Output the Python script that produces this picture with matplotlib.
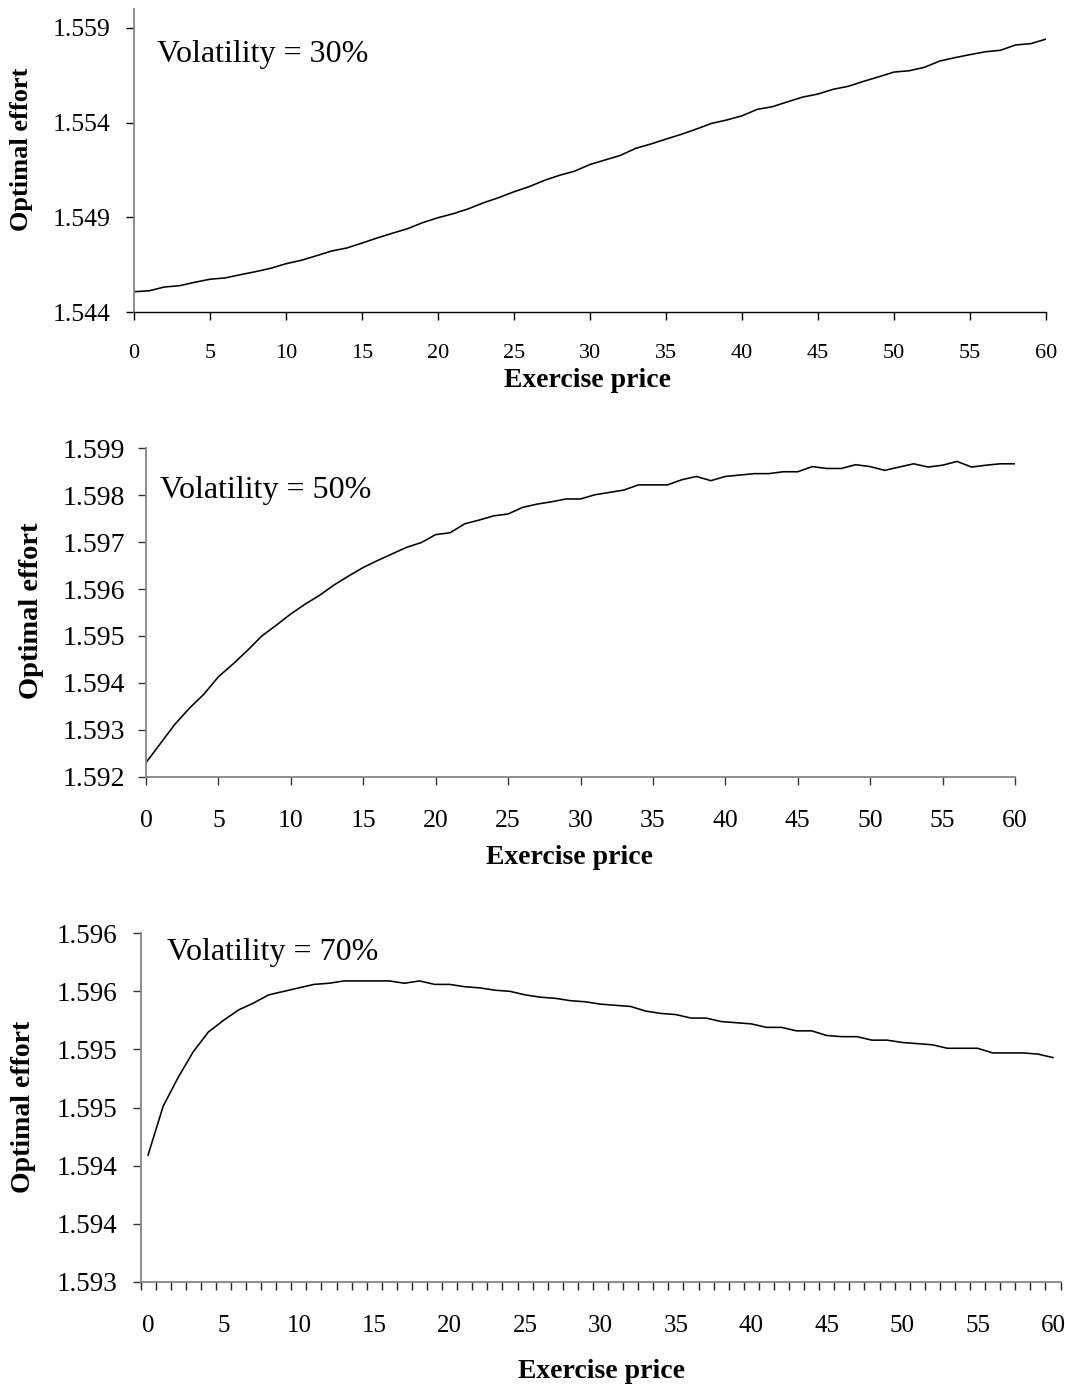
import matplotlib
matplotlib.use("Agg")
import matplotlib.pyplot as plt
from matplotlib.ticker import FixedLocator, NullFormatter

plt.rcParams['font.family'] = ['Liberation Serif', 'DejaVu Serif']

# ---------------- data ----------------
exercise_price = list(range(61))

effort_vol30 = [
    1.54507, 1.54512, 1.54532, 1.54539, 1.54557, 1.54573, 1.54580, 1.54597, 1.54613, 1.54631,
    1.54655, 1.54673, 1.54697, 1.54722, 1.54738, 1.54764, 1.54791, 1.54816, 1.54840, 1.54872,
    1.54898, 1.54919, 1.54945, 1.54977, 1.55004, 1.55035, 1.55062, 1.55095, 1.55122, 1.55144,
    1.55179, 1.55203, 1.55227, 1.55264, 1.55287, 1.55313, 1.55338, 1.55366, 1.55396, 1.55414,
    1.55436, 1.55470, 1.55484, 1.55510, 1.55535, 1.55551, 1.55576, 1.55592, 1.55618, 1.55642,
    1.55667, 1.55674, 1.55692, 1.55725, 1.55743, 1.55759, 1.55774, 1.55782, 1.55810, 1.55817,
    1.55841,
]

effort_vol50 = [
    1.59230, 1.59271, 1.59312, 1.59346, 1.59376, 1.59413, 1.59440, 1.59469, 1.59500, 1.59523,
    1.59547, 1.59568, 1.59587, 1.59609, 1.59628, 1.59646, 1.59661, 1.59675, 1.59689, 1.59699,
    1.59716, 1.59720, 1.59739, 1.59747, 1.59756, 1.59760, 1.59774, 1.59781, 1.59786, 1.59792,
    1.59792, 1.59801, 1.59806, 1.59811, 1.59822, 1.59822, 1.59822, 1.59833, 1.59840, 1.59831,
    1.59840, 1.59843, 1.59846, 1.59846, 1.59850, 1.59850, 1.59861, 1.59857, 1.59857, 1.59865,
    1.59861, 1.59853, 1.59860, 1.59867, 1.59860, 1.59864, 1.59872, 1.59860, 1.59864, 1.59867,
    1.59867,
]

categories_70 = [str(v) for v in range(61)]
effort_vol70 = [
    1.59409, 1.59451, 1.59476, 1.59498, 1.59515, 1.59525, 1.59534, 1.59540, 1.59547, 1.59550,
    1.59553, 1.59556, 1.59557, 1.59559, 1.59559, 1.59559, 1.59559, 1.59557, 1.59559, 1.59556,
    1.59556, 1.59554, 1.59553, 1.59551, 1.59550, 1.59547, 1.59545, 1.59544, 1.59542, 1.59541,
    1.59539, 1.59538, 1.59537, 1.59533, 1.59531, 1.59530, 1.59527, 1.59527, 1.59524, 1.59523,
    1.59522, 1.59519, 1.59519, 1.59516, 1.59516, 1.59512, 1.59511, 1.59511, 1.59508, 1.59508,
    1.59506, 1.59505, 1.59504, 1.59501, 1.59501, 1.59501, 1.59497, 1.59497, 1.59497, 1.59496,
    1.59493,
]

x_ticks = list(range(0, 61, 5))
yticks_30 = [1.544, 1.549, 1.554, 1.559]
yticklabels_30 = ['1.544', '1.549', '1.554', '1.559']
yticks_50 = [1.592, 1.593, 1.594, 1.595, 1.596, 1.597, 1.598, 1.599]
yticklabels_50 = ['1.592', '1.593', '1.594', '1.595', '1.596', '1.597', '1.598', '1.599']
yticks_70 = [1.593, 1.5935, 1.594, 1.5945, 1.595, 1.5955, 1.596]
yticklabels_70 = ['1.593', '1.594', '1.594', '1.595', '1.595', '1.596', '1.596']

titles = ['Volatility = 30%', 'Volatility = 50%', 'Volatility = 70%']
ylabel_text = 'Optimal effort'
xlabel_text = 'Exercise price'

# ---------------- layout ----------------
W, H = 1065, 1386
fig = plt.figure(figsize=(W / 100, H / 100), dpi=100)
fig.patch.set_facecolor('white')


def rect(left, top, right, bottom):
    return [left / W, 1 - bottom / H, (right - left) / W, (bottom - top) / H]


def fx(x):
    return x / W


def fy(y):
    return 1 - y / H


GRAY = '#858585'
LW = 1.15

# ---- Panel 1 ----
ax1 = fig.add_axes(rect(134, 9, 1046, 312))
ax1.plot(exercise_price, effort_vol30, color='black', lw=LW)
ax1.set_xlim(0, 60)
ax1.set_ylim(1.544, 1.560)
ax1.set_xticks(x_ticks)
ax1.set_xticklabels([str(v) for v in x_ticks])
ax1.set_yticks(yticks_30)
ax1.set_yticklabels(yticklabels_30)
for s in ['top', 'right']:
    ax1.spines[s].set_visible(False)
ax1.spines['left'].set_color(GRAY)
ax1.spines['left'].set_linewidth(1.3)
ax1.spines['bottom'].set_color('black')
ax1.spines['bottom'].set_linewidth(1.0)
ax1.tick_params(axis='y', direction='out', length=6, width=1.0, color='black',
                labelsize=18.5, pad=11)
ax1.tick_params(axis='x', direction='out', length=6, width=1.0, color='black',
                labelsize=16, pad=17)

# ---- Panel 2 ----
ax2 = fig.add_axes(rect(146, 448.3, 1015, 776.7))
ax2.plot(exercise_price, effort_vol50, color='black', lw=LW)
ax2.set_xlim(0, 60)
ax2.set_ylim(1.592, 1.599)
ax2.set_xticks(x_ticks)
ax2.set_xticklabels([str(v) for v in x_ticks])
ax2.set_yticks(yticks_50)
ax2.set_yticklabels(yticklabels_50)
for s in ['top', 'right']:
    ax2.spines[s].set_visible(False)
for s in ['left', 'bottom']:
    ax2.spines[s].set_color(GRAY)
    ax2.spines[s].set_linewidth(1.3)
ax2.tick_params(axis='y', direction='out', length=6, width=1.0, color='#333333',
                labelsize=20, pad=9)
ax2.tick_params(axis='x', direction='out', length=6, width=1.0, color='#333333',
                labelsize=18.5, pad=18)

# ---- Panel 3 (category axis) ----
ax3 = fig.add_axes(rect(140.5, 933.3, 1060.5, 1281.7))
cat_pos = list(range(len(categories_70)))
ax3.plot(cat_pos, effort_vol70, color='black', lw=LW)
ax3.set_xlim(-0.5, len(categories_70) - 0.5)
ax3.set_ylim(1.593, 1.596)
label_pos = [i for i, c in enumerate(categories_70) if int(c) % 5 == 0]
ax3.xaxis.set_major_locator(FixedLocator(label_pos))
ax3.set_xticklabels([categories_70[i] for i in label_pos])
ax3.xaxis.set_minor_locator(FixedLocator([i - 0.5 for i in range(len(categories_70) + 1)]))
ax3.xaxis.set_minor_formatter(NullFormatter())
ax3.set_yticks(yticks_70)
ax3.set_yticklabels(yticklabels_70)
for s in ['top', 'right']:
    ax3.spines[s].set_visible(False)
for s in ['left', 'bottom']:
    ax3.spines[s].set_color(GRAY)
    ax3.spines[s].set_linewidth(1.3)
ax3.tick_params(axis='x', which='major', length=0, labelsize=18, pad=24)
ax3.tick_params(axis='x', which='minor', direction='out', length=6, width=1.0, color='#222222')
ax3.tick_params(axis='y', direction='out', length=6, width=1.0, color='#333333',
                labelsize=19.5, pad=10.5)

# ---- annotations ----
fig.text(fx(157), fy(62), titles[0], fontsize=23, ha='left', va='baseline')
fig.text(fx(160), fy(498), titles[1], fontsize=23, ha='left', va='baseline')
fig.text(fx(167), fy(960), titles[2], fontsize=23, ha='left', va='baseline')

fig.text(fx(22), fy(149), ylabel_text, fontsize=19, fontweight='bold', rotation=90,
         ha='center', va='center')
fig.text(fx(32), fy(611), ylabel_text, fontsize=20.5, fontweight='bold', rotation=90,
         ha='center', va='center')
fig.text(fx(24), fy(1107), ylabel_text, fontsize=20, fontweight='bold', rotation=90,
         ha='center', va='center')

fig.text(fx(588), fy(387), xlabel_text, fontsize=20, fontweight='bold', ha='center', va='baseline')
fig.text(fx(569), fy(864), xlabel_text, fontsize=20, fontweight='bold', ha='center', va='baseline')
fig.text(fx(601), fy(1378), xlabel_text, fontsize=20, fontweight='bold', ha='center', va='baseline')

fig.savefig('out.png', dpi=100, facecolor='white')
